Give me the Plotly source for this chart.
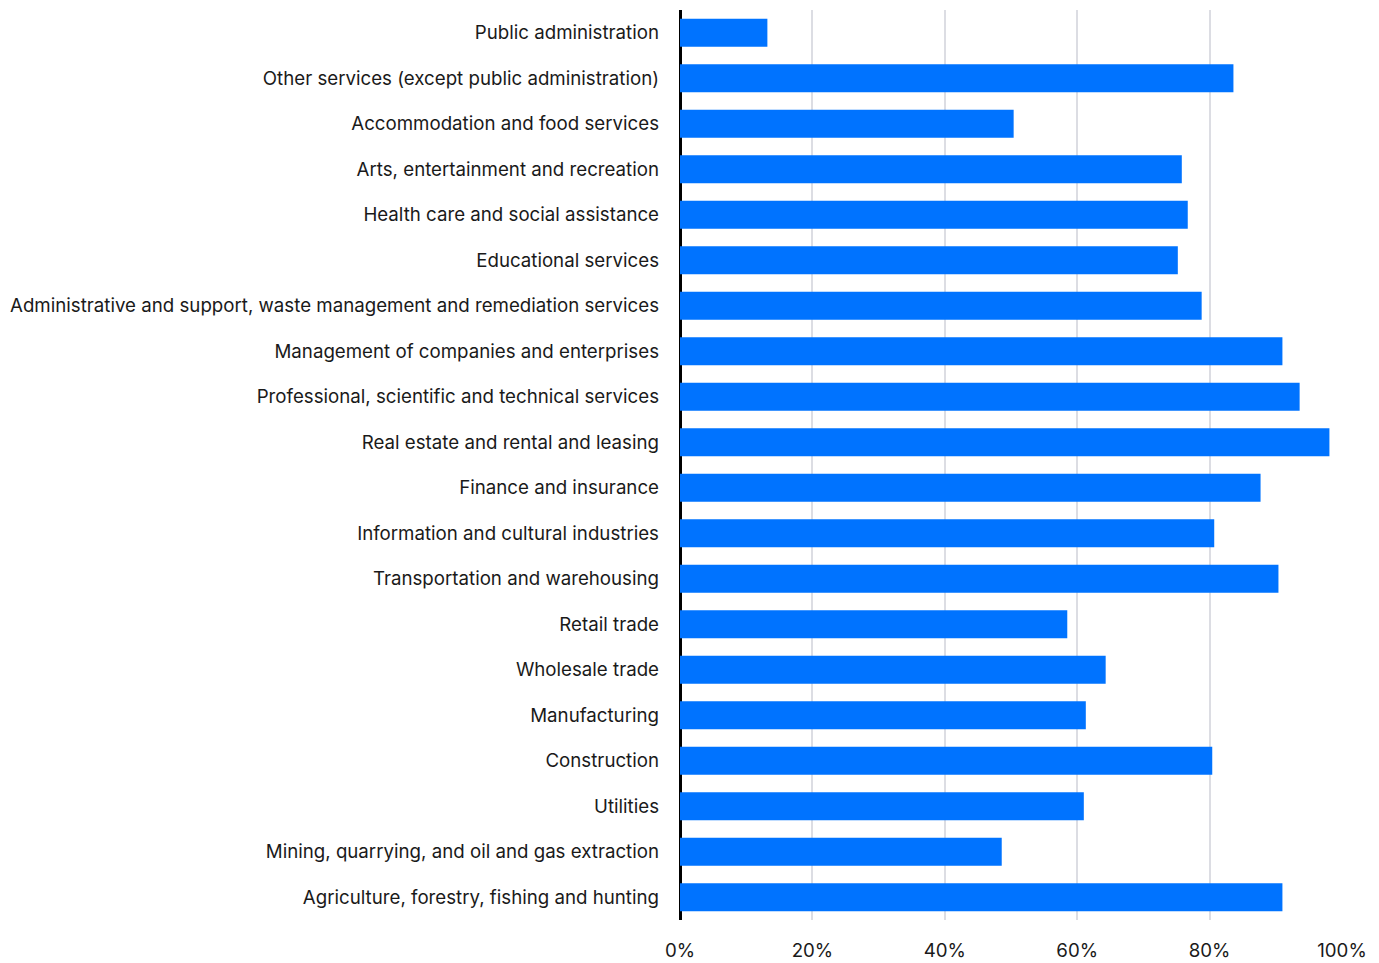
import plotly.graph_objects as go

categories = [
    "Agriculture, forestry, fishing and hunting",
    "Mining, quarrying, and oil and gas extraction",
    "Utilities",
    "Construction",
    "Manufacturing",
    "Wholesale trade",
    "Retail trade",
    "Transportation and warehousing",
    "Information and cultural industries",
    "Finance and insurance",
    "Real estate and rental and leasing",
    "Professional, scientific and technical services",
    "Management of companies and enterprises",
    "Administrative and support, waste management and remediation services",
    "Educational services",
    "Health care and social assistance",
    "Arts, entertainment and recreation",
    "Accommodation and food services",
    "Other services (except public administration)",
    "Public administration",
]
values = [91.0, 48.6, 61.0, 80.4, 61.3, 64.3, 58.5, 90.4, 80.7, 87.7,
          98.1, 93.6, 91.0, 78.8, 75.2, 76.7, 75.8, 50.4, 83.6, 13.2]
tick_vals = [0, 20, 40, 60, 80, 100]
tick_text = ["0%", "20%", "40%", "60%", "80%", "100%"]

fig = go.Figure(go.Bar(
    x=values, y=categories, orientation="h",
    marker=dict(color="#0073FF", line=dict(width=0)),
    hoverinfo="x+y",
))

fig.update_layout(
    width=1379, height=963,
    margin=dict(l=672, r=45, t=2, b=51),
    paper_bgcolor="white", plot_bgcolor="white",
    font=dict(family="Inter", size=18.7, color="#1a1a1a"),
    bargap=0.38,
    showlegend=False,
)
fig.update_xaxes(
    range=[0, 100], tickvals=tick_vals, ticktext=tick_text,
    showgrid=True, gridcolor="#dcdde3", gridwidth=2,
    zeroline=True, zerolinecolor="black", zerolinewidth=2.5,
    ticks="", ticklabelstandoff=17, fixedrange=True,
)
fig.update_yaxes(
    categoryorder="array", categoryarray=categories,
    showgrid=False, ticks="", ticklabelstandoff=20,
    showline=False, fixedrange=True,
)

fig.write_html("out.html")
